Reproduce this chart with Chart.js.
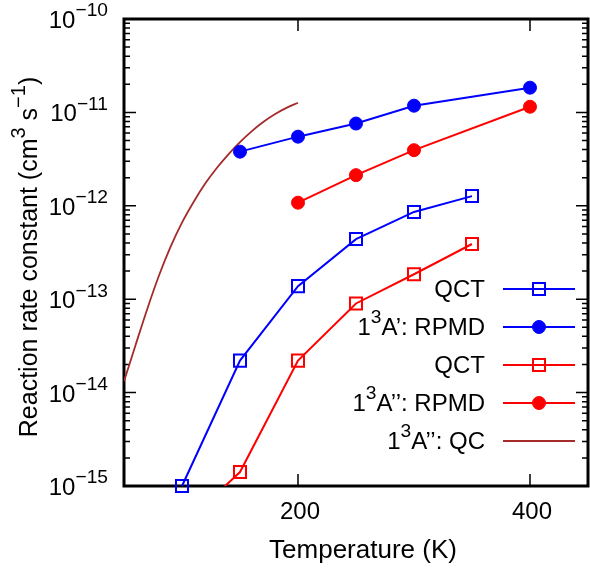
<!DOCTYPE html>
<html>
<head>
<meta charset="utf-8">
<script src="https://cdn.jsdelivr.net/npm/chart.js@4"></script>
<style>
html, body { margin: 0; padding: 0; background: #fff; }
</style>
</head>
<body>
<canvas id="mycanvas" width="590" height="568"></canvas>
<script>
// temperatures (K) and rate constants (cm^3 s^-1)
var tempsQct = [100, 150, 200, 250, 300, 350];
var qctA1 = [1.0e-15, 2.2e-14, 1.38e-13, 4.4e-13, 8.6e-13, 1.27e-12];
var qctA2 = [3.7e-16, 1.41e-15, 2.2e-14, 9.0e-14, 1.85e-13, 3.9e-13];

var tempsRpmdA1 = [150, 200, 250, 300, 400];
var rpmdA1 = [3.8e-12, 5.5e-12, 7.6e-12, 1.18e-11, 1.84e-11];

var tempsRpmdA2 = [200, 250, 300, 400];
var rpmdA2 = [1.08e-12, 2.13e-12, 3.94e-12, 1.15e-11];

var tempsQc = [50, 60, 70, 80, 90, 100, 110, 120, 130, 140, 150, 160, 170, 180, 190, 200];
var qcA2 = [1.32e-14, 3.24e-14, 7.82e-14, 1.77e-13, 3.61e-13, 6.61e-13, 1.10e-12, 1.73e-12,
            2.54e-12, 3.56e-12, 4.81e-12, 6.27e-12, 7.89e-12, 9.55e-12, 1.117e-11, 1.27e-11];

var xTicks = [200, 400];
var xTickLabels = ['200', '400'];
var yTicks = [1e-15, 1e-14, 1e-13, 1e-12, 1e-11, 1e-10];
var yTickLabels = ['10^{−15}', '10^{−14}', '10^{−13}', '10^{−12}', '10^{−11}', '10^{−10}'];

var FONT = '"Liberation Sans", Arial, Helvetica, sans-serif';

function pts(xs, ys) {
	var out = [];
	for (var i in xs) out.push({x: xs[i], y: ys[i]});
	return out;
}

// gnuplot-like text: "a^{b}" puts b as superscript
function parseRich(s) {
	var out = [], re = /\^\{([^}]*)\}/g, last = 0, m;
	while ((m = re.exec(s))) {
		if (m.index > last) out.push({t: s.slice(last, m.index), sup: false});
		out.push({t: m[1], sup: true});
		last = re.lastIndex;
	}
	if (last < s.length) out.push({t: s.slice(last), sup: false});
	return out;
}

function drawRich(ctx, s, x, y, align, size) {
	var segs = parseRich(s), w = 0;
	segs.forEach(function(g) {
		ctx.font = (g.sup ? size * 0.8 : size) + 'px ' + FONT;
		g.w = ctx.measureText(g.t).width;
		w += g.w;
	});
	var cx = align === 'right' ? x - w : (align === 'center' ? x - w / 2 : x);
	ctx.textAlign = 'left';
	ctx.textBaseline = 'alphabetic';
	ctx.fillStyle = '#000';
	segs.forEach(function(g) {
		ctx.font = (g.sup ? size * 0.8 : size) + 'px ' + FONT;
		ctx.fillText(g.t, cx, g.sup ? y - size * 0.48 : y);
		cx += g.w;
	});
}

var framePlugin = {
	id: 'frame',
	beforeDatasetsDraw: function(chart) {
		var ctx = chart.ctx, a = chart.chartArea;
		var xs = chart.scales.x, ys = chart.scales.y;
		ctx.save();
		ctx.strokeStyle = '#000';
		ctx.lineWidth = 1.5;
		ctx.beginPath();
		// log ticks, inward on left and right
		for (var d = -15; d <= -10; d++) {
			for (var k = 1; k <= 9; k++) {
				if (d === -10 && k > 1) break;
				var py = ys.getPixelForValue(k * Math.pow(10, d));
				var len = k === 1 ? 12 : 6;
				ctx.moveTo(a.left, py); ctx.lineTo(a.left + len, py);
				ctx.moveTo(a.right, py); ctx.lineTo(a.right - len, py);
			}
		}
		xTicks.forEach(function(t) {
			var px = xs.getPixelForValue(t);
			ctx.moveTo(px, a.bottom); ctx.lineTo(px, a.bottom - 12);
			ctx.moveTo(px, a.top); ctx.lineTo(px, a.top + 12);
		});
		ctx.stroke();
		ctx.lineWidth = 3;
		ctx.strokeRect(a.left, a.top, a.right - a.left, a.bottom - a.top);

		yTicks.forEach(function(t, i) {
			drawRich(ctx, yTickLabels[i], 108, ys.getPixelForValue(t) + 9, 'right', 24);
		});
		xTicks.forEach(function(t, i) {
			drawRich(ctx, xTickLabels[i], xs.getPixelForValue(t) + 2, 519, 'center', 24);
		});
		drawRich(ctx, 'Temperature (K)', 363, 558, 'center', 26);
		ctx.translate(37, 257);
		ctx.rotate(-Math.PI / 2);
		drawRich(ctx, 'Reaction rate constant (cm^{3} s^{−1})', 0, 0, 'center', 25);
		ctx.restore();
	}
};

var keyPlugin = {
	id: 'key',
	afterDraw: function(chart) {
		var ctx = chart.ctx;
		chart.data.datasets.forEach(function(ds, i) {
			var y = 289 + i * 38;
			drawRich(ctx, ds.label, 485, y + 8, 'right', 24);
			ctx.save();
			ctx.strokeStyle = ds.borderColor;
			ctx.lineWidth = ds.borderWidth;
			ctx.beginPath();
			ctx.moveTo(503, y); ctx.lineTo(575, y);
			ctx.stroke();
			if (ds.pointRadius > 0) {
				ctx.fillStyle = ds.pointBackgroundColor;
				ctx.strokeStyle = ds.pointBorderColor;
				ctx.lineWidth = ds.pointBorderWidth;
				Chart.helpers.drawPoint(ctx, {
					pointStyle: ds.pointStyle, rotation: 0,
					radius: ds.pointRadius, borderWidth: ds.pointBorderWidth
				}, 539, y);
			}
			ctx.restore();
		});
	}
};

var blue = '#0000ff', red = '#ff0000', brown = '#a52a2a';

var chartdata = {
	datasets: [
		{
			label: 'QCT',
			data: pts(tempsQct, qctA1),
			borderColor: blue, borderWidth: 2,
			pointStyle: 'rect', pointRadius: 8.5,
			pointBackgroundColor: 'rgba(0,0,0,0)', pointBorderColor: blue, pointBorderWidth: 2,
			clip: false
		},
		{
			label: '1^{3}A’: RPMD',
			data: pts(tempsRpmdA1, rpmdA1),
			borderColor: blue, borderWidth: 2,
			pointStyle: 'circle', pointRadius: 6.5,
			pointBackgroundColor: blue, pointBorderColor: blue, pointBorderWidth: 1
		},
		{
			label: 'QCT',
			data: pts(tempsQct, qctA2),
			borderColor: red, borderWidth: 2,
			pointStyle: 'rect', pointRadius: 8.5,
			pointBackgroundColor: 'rgba(0,0,0,0)', pointBorderColor: red, pointBorderWidth: 2
		},
		{
			label: '1^{3}A’’: RPMD',
			data: pts(tempsRpmdA2, rpmdA2),
			borderColor: red, borderWidth: 2,
			pointStyle: 'circle', pointRadius: 6.5,
			pointBackgroundColor: red, pointBorderColor: red, pointBorderWidth: 1
		},
		{
			label: '1^{3}A’’: QC',
			data: pts(tempsQc, qcA2),
			borderColor: brown, borderWidth: 1.8,
			pointRadius: 0,
			cubicInterpolationMode: 'monotone'
		}
	]
};

var ctx = document.getElementById('mycanvas');
var rateChart = new Chart(ctx, {
	type: 'line',
	data: chartdata,
	options: {
		responsive: false,
		animation: false,
		layout: { autoPadding: false, padding: { left: 124, right: 2, top: 19, bottom: 82 } },
		scales: {
			x: { type: 'linear', min: 50, max: 450, display: false },
			y: { type: 'logarithmic', min: 1e-15, max: 1e-10, display: false }
		},
		plugins: {
			legend: { display: false },
			tooltip: { enabled: false }
		}
	},
	plugins: [framePlugin, keyPlugin]
});
</script>
</body>
</html>
